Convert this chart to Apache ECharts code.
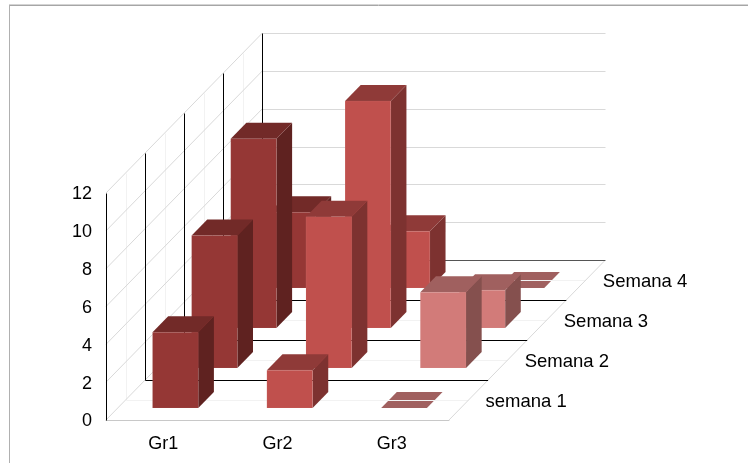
<!DOCTYPE html>
<html>
<head>
<meta charset="utf-8">
<style>
  html, body { margin: 0; padding: 0; background: #fff; }
  #main { width: 748px; height: 463px; }
</style>
<script src="https://cdn.jsdelivr.net/npm/echarts@6/dist/echarts.min.js"></script>
</head>
<body>
<div id="main"></div>
<script>
const groups = ['Gr1', 'Gr2', 'Gr3'];
const weeks = ['semana 1', 'Semana 2', 'Semana 3', 'Semana 4'];
const semana1 = [4, 2, 0];
const semana2 = [7, 8, 4];
const semana3 = [10, 12, 2];
const semana4 = [4, 3, 0];
const yTicks = [0, 2, 4, 6, 8, 10, 12];

const weekValues = [semana1, semana2, semana3, semana4];
// front, top, side per group
const faces = [
  ['#953735', '#722a28', '#5f2220'],
  ['#c0504d', '#8f3a38', '#7d3230'],
  ['#d27b79', '#a0605f', '#85504e'],
];
const fontFamily = '"Liberation Sans", Arial, sans-serif';
// oblique offset of one week slot
const DX = 39.1;
const DY = -40;
const BAR = 0.4; // share of a slot taken by a bar

const px = (v) => Math.round(v) + 0.5;
const line = (x1, y1, x2, y2, stroke, z2) => ({
  type: 'line',
  z2,
  shape: { x1, y1, x2, y2 },
  style: { stroke, lineWidth: 1, fill: null },
});
const face = (points, fill, z2, stroke) => ({
  type: 'polygon',
  z2,
  shape: { points },
  style: { fill, stroke: stroke || null, lineWidth: 1 },
});

function plotEdges(api) {
  const band = api.size([1, 0])[0];
  const x0 = api.coord([0, 0])[0] - band / 2;
  return { band, x0, x1: x0 + band * groups.length, y0: api.coord([0, 0])[1] };
}

// grey gridlines on the left and back walls
function renderWall(params, api) {
  const { x0, x1 } = plotEdges(api);
  const y = api.coord([0, api.value(1)])[1];
  const n = weeks.length;
  const yBack = y + DY * n;
  const xBack0 = x0 + DX * n;
  const xBack1 = x1 + DX * n;
  const children = [line(x0, y, xBack0, yBack, '#d9d9d9', 3)];
  if (api.value(1) > 0) {
    children.push(line(px(xBack0), px(yBack), px(xBack1), px(yBack), '#d9d9d9', 3));
  } else {
    children.push(line(x1, y, xBack1, yBack, '#d9d9d9', 3));
  }
  return { type: 'group', children };
}

// black lines between weeks, faint lines in the middle of a week, week labels
function renderSlots(params, api) {
  const { x0, x1, y0 } = plotEdges(api);
  const k = api.value(1);
  const top = api.coord([0, yTicks[yTicks.length - 1]])[1];
  const children = [];
  const dx = DX * k;
  const dy = DY * k;
  children.push(line(px(x0 + dx), px(y0 + dy), px(x0 + dx), px(top + dy), '#000', 5));
  if (k > 0) {
    children.push(line(px(x0 + dx), px(y0 + dy), x1 + dx, px(y0 + dy), k === weeks.length ? '#555' : '#000', 5));
  }
  if (k < weeks.length) {
    const mx = DX * (k + 0.5);
    const my = DY * (k + 0.5);
    children.push(line(px(x0 + mx), px(y0 + my), px(x0 + mx), px(top + my), '#f2f2f2', 2));
    children.push(line(px(x0 + mx), px(y0 + my), x1 + mx, px(y0 + my), '#f2f2f2', 2));
    children.push({
      type: 'text',
      z2: 60,
      style: {
        x: x1 + mx + 17,
        y: y0 + my + 2,
        text: weeks[k],
        font: '18.5px ' + fontFamily,
        fill: '#000',
        align: 'left',
        verticalAlign: 'middle',
      },
    });
  }
  return { type: 'group', children };
}

function renderBar(week) {
  return function (params, api) {
    const { band } = plotEdges(api);
    const cat = api.value(0);
    const val = api.value(1);
    const base = api.coord([cat, 0]);
    const top = api.coord([cat, val]);
    const half = (band * BAR) / 2;
    const gap = (1 - BAR) / 2;
    const fx = DX * (week + gap);
    const fy = DY * (week + gap);
    const bx = DX * (week + 1 - gap);
    const by = DY * (week + 1 - gap);
    const L = base[0] - half + 0.5;
    const R = base[0] + half + 0.5;
    const colors = faces[cat];
    if (val === 0) {
      // empty bar lies flat on the floor, under the faint line
      return face([[L + fx, base[1] + fy], [R + fx, base[1] + fy], [R + bx, base[1] + by], [L + bx, base[1] + by]], colors[1], 1);
    }
    const z2 = 10 + (weeks.length - week) * 5 + cat;
    return {
      type: 'group',
      children: [
        face([[R + fx, base[1] + fy], [R + bx, base[1] + by], [R + bx, top[1] + by], [R + fx, top[1] + fy]], colors[2], z2),
        face([[L + fx, top[1] + fy], [R + fx, top[1] + fy], [R + bx, top[1] + by], [L + bx, top[1] + by]], colors[1], z2),
        face([[L + fx, base[1] + fy], [R + fx, base[1] + fy], [R + fx, top[1] + fy], [L + fx, top[1] + fy]], colors[0], z2, 'rgba(255,255,255,0.06)'),
      ],
    };
  };
}

const series = [
  {
    type: 'custom',
    name: 'walls',
    coordinateSystem: 'cartesian2d',
    clip: false,
    silent: true,
    encode: { x: 0, y: 1 },
    renderItem: renderWall,
    data: yTicks.map((t) => [0, t]),
  },
  {
    type: 'custom',
    name: 'slots',
    coordinateSystem: 'cartesian2d',
    clip: false,
    silent: true,
    encode: { x: 0, y: 1 },
    renderItem: renderSlots,
    data: [0, 1, 2, 3, 4].map((k) => [0, k]),
  },
];
weekValues.forEach((values, week) => {
  series.push({
    type: 'custom',
    name: weeks[week],
    coordinateSystem: 'cartesian2d',
    clip: false,
    encode: { x: 0, y: 1 },
    renderItem: renderBar(week),
    data: values.map((v, i) => [i, v]),
  });
});

const chart = echarts.init(document.getElementById('main'), null, { renderer: 'canvas' });
chart.setOption({
  animation: false,
  backgroundColor: '#fff',
  grid: { left: 106, right: 299, top: 193, bottom: 43, containLabel: false },
  xAxis: {
    type: 'category',
    data: groups,
    boundaryGap: true,
    axisTick: { show: false },
    axisLine: { lineStyle: { color: '#c8c8c8', width: 1 } },
    axisLabel: { color: '#000', fontSize: 18, fontFamily, margin: 15 },
  },
  yAxis: {
    type: 'value',
    min: 0,
    max: 12,
    interval: 2,
    axisLine: { show: false },
    axisTick: { show: false },
    splitLine: { show: false },
    axisLabel: {
      margin: 14,
      formatter: '{v|{value}}',
      rich: { v: { color: '#000', fontSize: 18, fontFamily, padding: [3, 0, 0, 0] } },
    },
  },
  graphic: [
    { type: 'line', silent: true, shape: { x1: 9, y1: 4.5, x2: 748, y2: 4.5 }, style: { stroke: '#d4d4d4', lineWidth: 1 } },
    { type: 'line', silent: true, shape: { x1: 9, y1: 5.5, x2: 748, y2: 5.5 }, style: { stroke: '#a6a6a6', lineWidth: 1 } },
    { type: 'line', silent: true, shape: { x1: 9.5, y1: 5, x2: 9.5, y2: 463 }, style: { stroke: '#b0b0b0', lineWidth: 1 } },
  ],
  series,
});
</script>
</body>
</html>
